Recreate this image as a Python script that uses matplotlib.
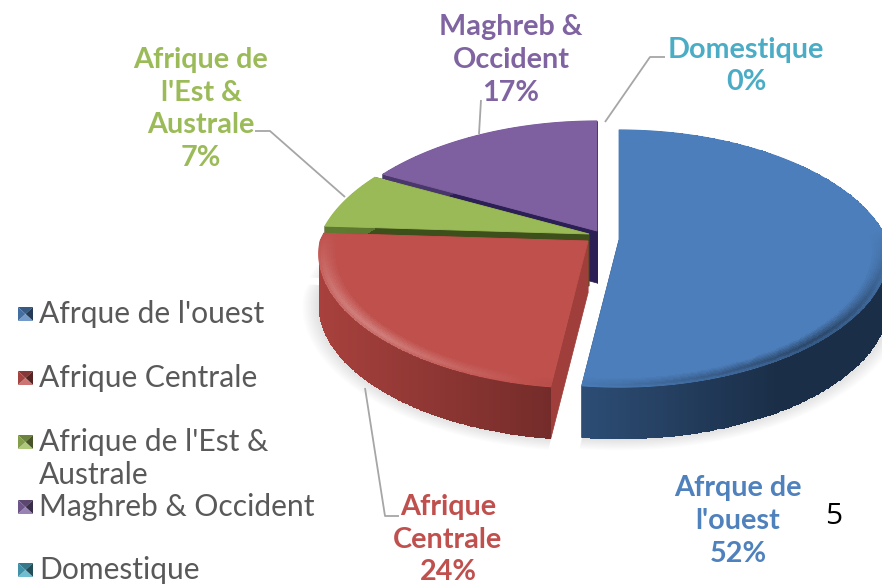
import numpy as np
import matplotlib
matplotlib.use("Agg")
import matplotlib.pyplot as plt
from matplotlib.colors import to_rgb
from matplotlib.patches import Polygon

# ---- data ----
categories = ["Afrque de l'ouest", "Afrique Centrale", "Afrique de l'Est & Australe",
              "Maghreb & Occident", "Domestique"]
values = [52, 24, 7, 17, 0]
label_names = ["Afrque de\nl'ouest", "Afrique\nCentrale", "Afrique de\nl'Est &\nAustrale",
               "Maghreb &\nOccident", "Domestique"]

# ---- style / layout ----
colors = ["#4c7ebb", "#bf504c", "#9aba57", "#7e5f9f", "#4bacc6"]
side_left = ["#2d4d75", "#a8413d", "#5f7a30", "#4d3a70", "#2d7a8c"]
side_right = ["#1a2e47", "#742c2a", "#4a5f25", "#3a2a58", "#205a68"]
cut_colors = ["#1f3550", "#a03e3b", "#3d4f1a", "#2b1f55", "#205a68"]
text_colors = ["#4f81bd", "#c0504d", "#9bbb59", "#8064a2", "#4bacc6"]
apex = [(619, 240), (588, 241), (589, 234), (597, 231), (600, 232)]
label_pos = [(738, 521), (448, 539.5), (201, 109), (511, 60), (746, 66)]
legend_y = [314, 378, 442, 507, 570]
leaders = [None,
           [(365, 388), (385, 516), (399, 516)],
           [(345, 197), (270, 131), (255, 131)],
           [(479, 134), (481, 100)],
           [(605, 122), (650, 57), (665, 57)]]
R, RY, K, KX_BACK, KX_FRONT, DEPTH = 268, 126, 0.144, 0.2, 0.1, 52
FONT = ["Lato", "DejaVu Sans"]


def project(a, theta, r=1.0, z=0.0, grow=0.0):
    u, v = np.sin(theta), np.cos(theta)
    s = 1 / (1 + K * v)
    sx = 1 / (1 + np.where(v > 0, KX_BACK, KX_FRONT) * v)
    return (a[0] + (R * r + grow) * u * sx,
            a[1] - (RY * r + grow * 0.6) * v * s + z * DEPTH)


fig = plt.figure(figsize=(8.82, 5.84), dpi=100)
ax = fig.add_axes([0, 0, 1, 1])
ax.set_xlim(0, 882)
ax.set_ylim(584, 0)
ax.axis("off")

fractions = np.array(values, dtype=float) / sum(values)
ends = np.cumsum(fractions) * 2 * np.pi
starts = ends - fractions * 2 * np.pi
slices = [(i, starts[i], ends[i]) for i in range(len(values)) if values[i] > 0]

# soft shadow
for grow in np.linspace(16, 1, 10):
    for i, a, b in slices:
        t = np.linspace(a, b, 100)
        x, y = project(apex[i], t, z=1.0, grow=grow)
        ax.add_patch(Polygon(np.c_[np.r_[apex[i][0], x], np.r_[apex[i][1] + DEPTH, y]],
                             fc="#000000", ec="none", alpha=0.012, zorder=1))

zo = 2
for i, a, b in sorted(slices, key=lambda s: {3: 0, 2: 1, 1: 2, 0: 3}[s[0]]):
    ap = apex[i]
    # cut faces
    for ang in (a, b):
        ex, ey = project(ap, ang)
        ax.add_patch(Polygon([(ap[0], ap[1]), (ex, ey), (ex, ey + DEPTH), (ap[0], ap[1] + DEPTH)],
                             fc=cut_colors[i], ec=cut_colors[i], lw=0.5, zorder=zo))
    # outer side wall, horizontal gradient
    th = np.linspace(a, b, 240)
    zz = np.linspace(0, 1, 2)
    T, Z = np.meshgrid(th, zz)
    X, Y = project(ap, T, z=Z)
    if i == 0:
        mix = (X - 584) / (780 - 584)
    elif i == 1:
        mix = (X - 319) / (550 - 319)
    else:
        mix = (X - 319) / (882 - 319)
    mix = np.clip(mix, 0, 1)[..., None]
    C = (1 - mix) * np.array(to_rgb(side_left[i])) + mix * np.array(to_rgb(side_right[i]))
    ax.pcolormesh(X, Y, C[:-1, :-1], shading="flat", antialiased=False, zorder=zo)
    # solid top face underneath, so the mesh leaves no seams
    base = np.array(to_rgb(colors[i]))
    ox, oy = project(ap, th)
    ax.add_patch(Polygon(np.c_[np.r_[ap[0], ox], np.r_[ap[1], oy]], fc=base, ec=base,
                         lw=0.6, zorder=zo))
    # bevelled rim only (outer ring of the top face)
    rr = np.linspace(0.9, 1, 14)
    T, Rad = np.meshgrid(th, rr)
    X, Y = project(ap, T, r=Rad)
    front = np.clip(-np.cos(T) * 1.3 + 0.1, 0, 1)
    light = np.clip(0.42 - 0.85 * (np.sin(T) + 1) * 0.62, -0.45, 0.42)
    prof = np.clip((Rad - 0.93) / 0.05, 0, 1) * np.where(Rad > 0.98, 1 - (Rad - 0.98) / 0.02 * 0.6, 1)
    amt = (front * prof * light)[..., None]
    C = np.where(amt > 0, base + (1 - base) * amt, base * (1 + amt))
    ax.pcolormesh(X, Y, np.clip(C, 0, 1)[:-1, :-1], shading="flat", antialiased=False, zorder=zo)
    zo += 1

# leader lines
for pts in leaders:
    if pts:
        xs, ys = zip(*pts)
        ax.plot(xs, ys, color="#a6a6a6", lw=1.3, zorder=10, solid_capstyle="butt")

# data labels
for name, val, pos, col in zip(label_names, values, label_pos, text_colors):
    ax.text(pos[0], pos[1], f"{name}\n{val}%", ha="center", va="center", color=col,
            fontsize=20.7, fontweight="bold", family=FONT, linespacing=1.32, zorder=11)

# legend
for name, y, col in zip(categories, legend_y, text_colors):
    c = np.array(to_rgb(col))
    x0, x1, y0, y1 = 18, 33, y - 7, y + 7
    m = ((x0 + x1) / 2, (y0 + y1) / 2)
    ax.add_patch(Polygon([(x0, y0), (x1, y0), m], fc=c * 0.7, ec="none", zorder=11))
    ax.add_patch(Polygon([(x0, y0), (x0, y1), m], fc=c * 0.85, ec="none", zorder=11))
    ax.add_patch(Polygon([(x1, y0), (x1, y1), m], fc=c * 0.45, ec="none", zorder=11))
    ax.add_patch(Polygon([(x0, y1), (x1, y1), m], fc=c + (1 - c) * 0.2, ec="none", zorder=11))
    if "Est &" in name:
        first, second = name.replace("& ", "&\n").split("\n")
        ax.text(39, y, first, ha="left", va="center", color="#595959",
                fontsize=21.6, family=FONT, zorder=11)
        ax.text(39, y + 33, second, ha="left", va="center", color="#595959",
                fontsize=21.6, family=FONT, zorder=11)
    else:
        ax.text(39, y, name, ha="left", va="center", color="#595959",
                fontsize=21.6, family=FONT, zorder=11)

ax.text(833.5, 517, "5", ha="center", va="center", color="black", fontsize=21.5,
        family=["Open Sans", "DejaVu Sans"], zorder=11)

fig.savefig("out.png", dpi=100)
